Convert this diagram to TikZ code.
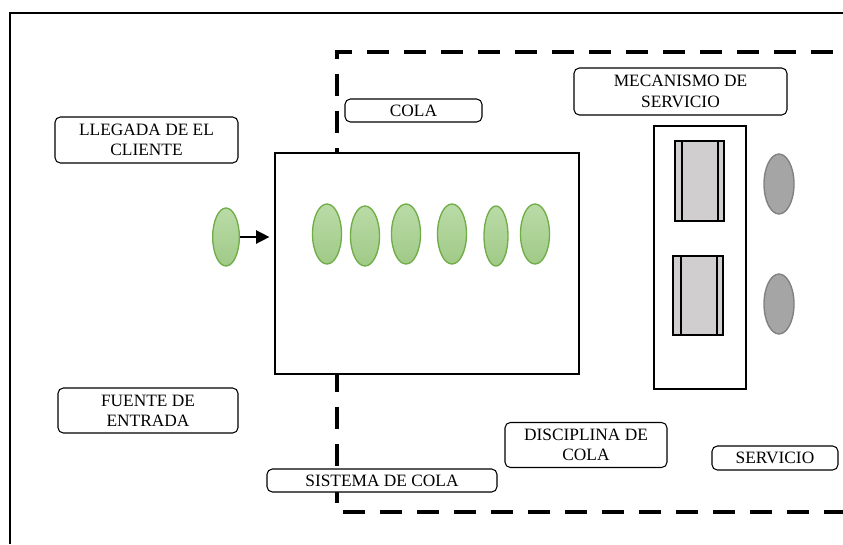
\documentclass[tikz,border=0pt]{standalone}
\usepackage{fontspec}
\setmainfont{Liberation Serif}
\usetikzlibrary{arrows.meta,shapes.geometric}
\definecolor{verdeborde}{HTML}{70AD47}
\definecolor{verdearriba}{HTML}{BADBA7}
\definecolor{verdeabajo}{HTML}{A0CA87}
\definecolor{grisclaro}{HTML}{D0CECE}
\definecolor{grismedio}{HTML}{A5A5A5}
\definecolor{grisborde}{HTML}{7F7F7F}
\tikzset{
	etiqueta/.style={draw=black, fill=white, line width=.8pt, rounded corners=4pt, align=center, inner sep=0pt, font=\fontsize{13}{15.2}\selectfont},
	cliente/.style={ellipse, draw=verdeborde, line width=1pt, top color=verdearriba, bottom color=verdeabajo, minimum width=21.75pt, minimum height=45pt, inner sep=0pt},
	atendido/.style={ellipse, draw=grisborde, fill=grismedio, line width=1pt, minimum width=22.5pt, minimum height=45pt, inner sep=0pt},
	servidor/.style={draw=black, line width=1pt, fill=grisclaro},
	frontera/.style={line width=3pt, dash pattern=on 16.5pt off 11.25pt, dash phase=20pt}
}
\begin{document}
\begin{tikzpicture}[x=.75pt, y=-.75pt]
	\useasboundingbox (0,0) rectangle (843,544);
	\draw[line width=1pt] (10,544) -- (10,13) -- (843,13);
	\draw[frontera] (843,52) -- (337,52) -- (337,512) -- (843,512);
	% etiquetas
	\node[etiqueta, minimum width=137.25pt, minimum height=34.5pt]  (llegada)    at (146.5,140)  {LLEGADA DE EL\\CLIENTE};
	\node[etiqueta, minimum width=135pt,    minimum height=33.75pt] (fuente)     at (148,410.5)  {FUENTE DE\\ENTRADA};
	\node[etiqueta, minimum width=102.75pt, minimum height=17.25pt] (cola)       at (413.5,110.5) {COLA};
	\node[etiqueta, minimum width=159.75pt, minimum height=35.25pt] (mecanismo)  at (680.5,91.5) {MECANISMO DE\\SERVICIO};
	\node[etiqueta, minimum width=121.5pt,  minimum height=33.75pt] (disciplina) at (586,445)    {DISCIPLINA DE\\COLA};
	\node[etiqueta, minimum width=94.5pt,   minimum height=18pt]    (servicio)   at (775,458)    {SERVICIO};
	\node[etiqueta, minimum width=172.5pt,  minimum height=17.25pt] (sistema)    at (382,480.5)  {SISTEMA DE COLA};
	% fila y clientes
	\node[draw, fill=white, line width=.9pt, minimum width=228pt, minimum height=165.75pt, inner sep=0pt] (fila) at (427,263.5) {};
	\node[cliente, minimum width=20pt, minimum height=43.5pt] (llega) at (226,237) {};
	\node[cliente] (c1) at (327,234) {};
	\node[cliente] (c2) at (365,236) {};
	\node[cliente] (c3) at (406,234) {};
	\node[cliente] (c4) at (452,234) {};
	\node[cliente, minimum width=18pt] (c5) at (496,236) {};
	\node[cliente] (c6) at (535,234) {};
	\draw[-{Triangle[length=10pt,width=10pt]}, line width=1.1pt, shorten >=3.75pt] (llega.east) -- (llega.east -| fila.west);
	% mecanismo de servicio
	\draw[line width=.9pt, fill=white] (654,126) rectangle (746,389);
	\draw[servidor] (675,141) rectangle (724,221);
	\draw[servidor] (682,141) -- (682,221) (718,141) -- (718,221);
	\draw[servidor] (673,256) rectangle (723,335);
	\draw[servidor] (681,256) -- (681,335) (717,256) -- (717,335);
	\node[atendido] (s1) at (779,184) {};
	\node[atendido] (s2) at (779,304) {};
\end{tikzpicture}
\end{document}
